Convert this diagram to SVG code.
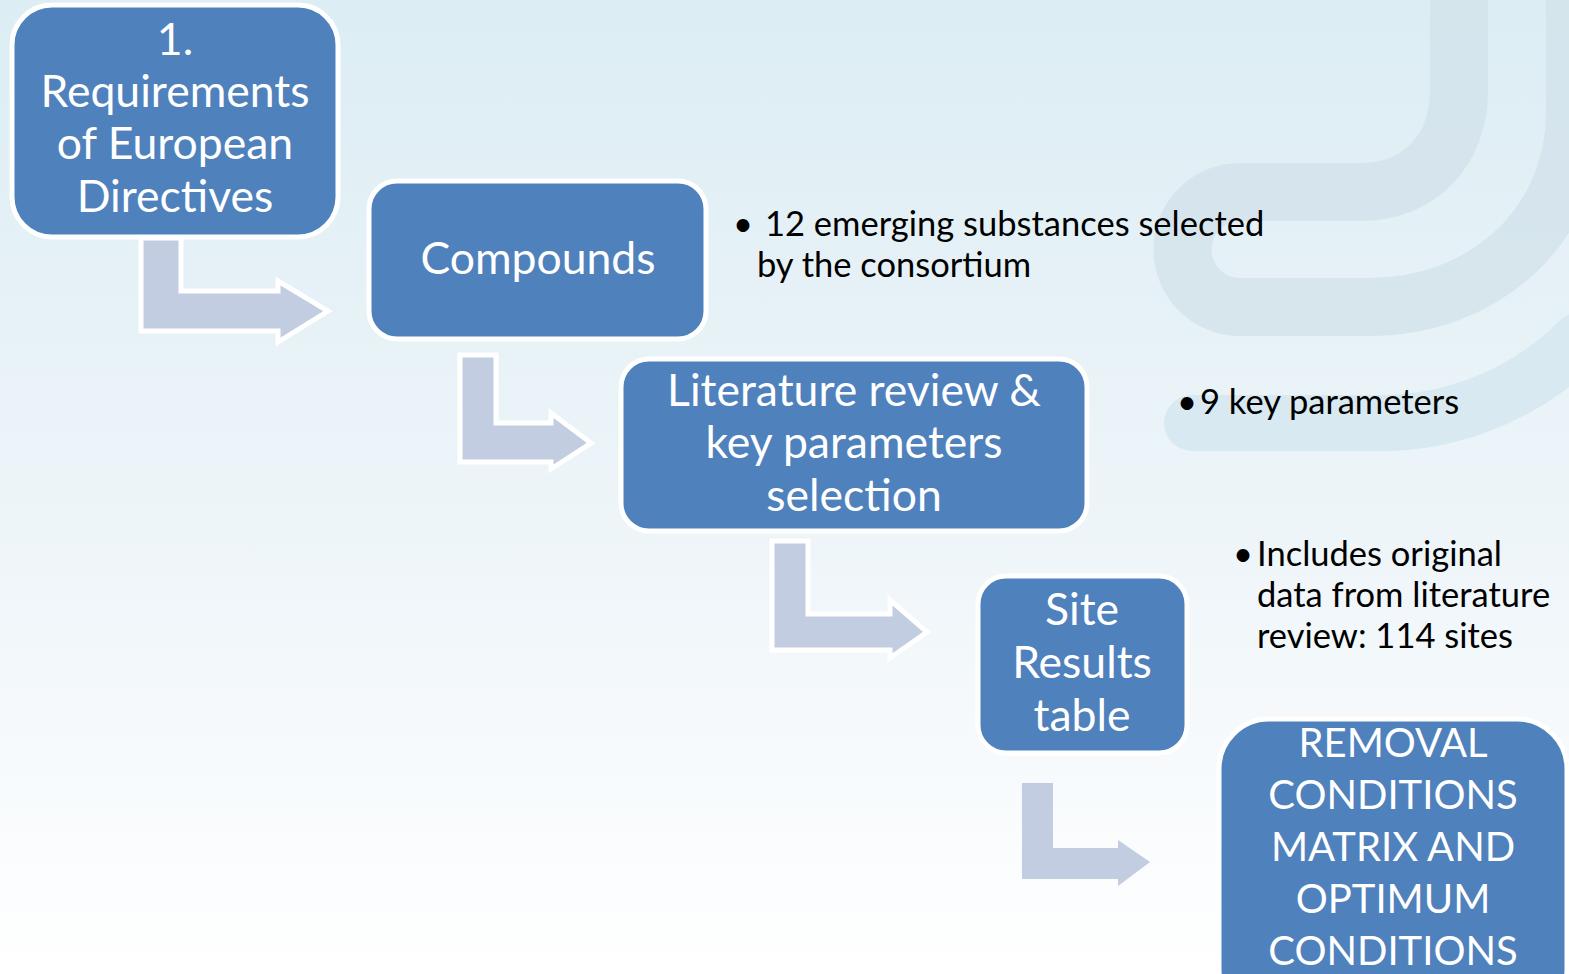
<svg xmlns="http://www.w3.org/2000/svg" width="1569" height="974" viewBox="0 0 1569 974">
<defs>
<linearGradient id="bg" x1="0" y1="0" x2="0" y2="1">
<stop offset="0" stop-color="#DCEDF4"/>
<stop offset="0.55" stop-color="#EEF5F9"/>
<stop offset="1" stop-color="#FFFFFF"/>
</linearGradient>
<style>
.box{fill:#4F81BD;stroke:#FFFFFF;stroke-width:5}
.arr{fill:#C2CDE1;stroke:#FFFFFF;stroke-width:5;stroke-linejoin:miter}
.bt{font-family:Lato,"Liberation Sans",sans-serif;font-size:44.5px;fill:#FFFFFF;text-anchor:middle}
.cap{font-size:40px}
.nt{font-family:Lato,"Liberation Sans",sans-serif;font-size:34.5px;fill:#000000}
.band{fill:none;stroke:#D2E2E9;stroke-width:58;opacity:0.75}
</style>
</defs>
<rect width="1569" height="974" fill="url(#bg)"/>
<g id="decor">
<path class="band" d="M1459,-10 L1459,90 C1459,150 1420,192 1360,192 L1240,192 A57.5,57.5 0 0 0 1240,307 L1370,307 C1480,307 1575,230 1575,110 L1575,-10"/>
<path d="M1192,423 L1380,423 C1460,423 1530,390 1580,340" fill="none" stroke="#D8E9F1" stroke-width="56" stroke-linecap="round"/>
</g>
<g id="connectors">
<path class="arr" d="M141,238 L181,238 L181,291 L278,291 L278,281 L328,311 L278,342 L278,331 L141,331 Z"/>
<path class="arr" d="M460,355 L496,355 L496,423 L551,423 L551,413 L591,443 L551,469 L551,462 L460,462 Z"/>
<path class="arr" d="M772,541 L808,541 L808,614 L890,614 L890,600 L927,632 L890,658 L890,650 L772,650 Z"/>
<path d="M1022,783 L1053,783 L1053,848 L1118,848 L1118,840 L1150,862 L1118,886 L1118,879 L1022,879 Z" fill="#C2CDE1"/>
</g>
<g id="n1">
<rect class="box" x="12" y="5" width="326" height="232" rx="40"/>
<text class="bt" x="175" y="55">1.</text>
<text class="bt" x="175" y="107">Requirements</text>
<text class="bt" x="175" y="159">of European</text>
<text class="bt" x="175" y="212">Directives</text>
</g>
<g id="n2">
<rect class="box" x="369" y="181" width="337" height="158" rx="28"/>
<text class="bt" x="538" y="274">Compounds</text>
</g>
<g id="n3">
<rect class="box" x="621" y="359" width="466" height="172" rx="28"/>
<text class="bt" x="854" y="406">Literature review &amp;</text>
<text class="bt" x="854" y="458">key parameters</text>
<text class="bt" x="854" y="511">selection</text>
</g>
<g id="n4">
<rect class="box" x="978" y="576" width="209" height="177" rx="28"/>
<text class="bt" x="1082" y="625">Site</text>
<text class="bt" x="1082" y="678">Results</text>
<text class="bt" x="1082" y="731">table</text>
</g>
<g id="n5">
<rect class="box" x="1219" y="719" width="348" height="300" rx="50"/>
<text class="bt cap" x="1393" y="757">REMOVAL</text>
<text class="bt cap" x="1393" y="809">CONDITIONS</text>
<text class="bt cap" x="1393" y="861">MATRIX AND</text>
<text class="bt cap" x="1393" y="913">OPTIMUM</text>
<text class="bt cap" x="1393" y="965">CONDITIONS</text>
</g>
<g id="notes">
<text class="nt" x="733" y="236">•</text>
<text class="nt" x="765" y="236">12 emerging substances selected</text>
<text class="nt" x="757" y="277">by the consortium</text>
<text class="nt" x="1177" y="414">•</text>
<text class="nt" x="1200" y="414">9 key parameters</text>
<text class="nt" x="1233" y="566">•</text>
<text class="nt" x="1257" y="566">Includes original</text>
<text class="nt" x="1257" y="607">data from literature</text>
<text class="nt" x="1257" y="648">review: 114 sites</text>
</g>
</svg>
